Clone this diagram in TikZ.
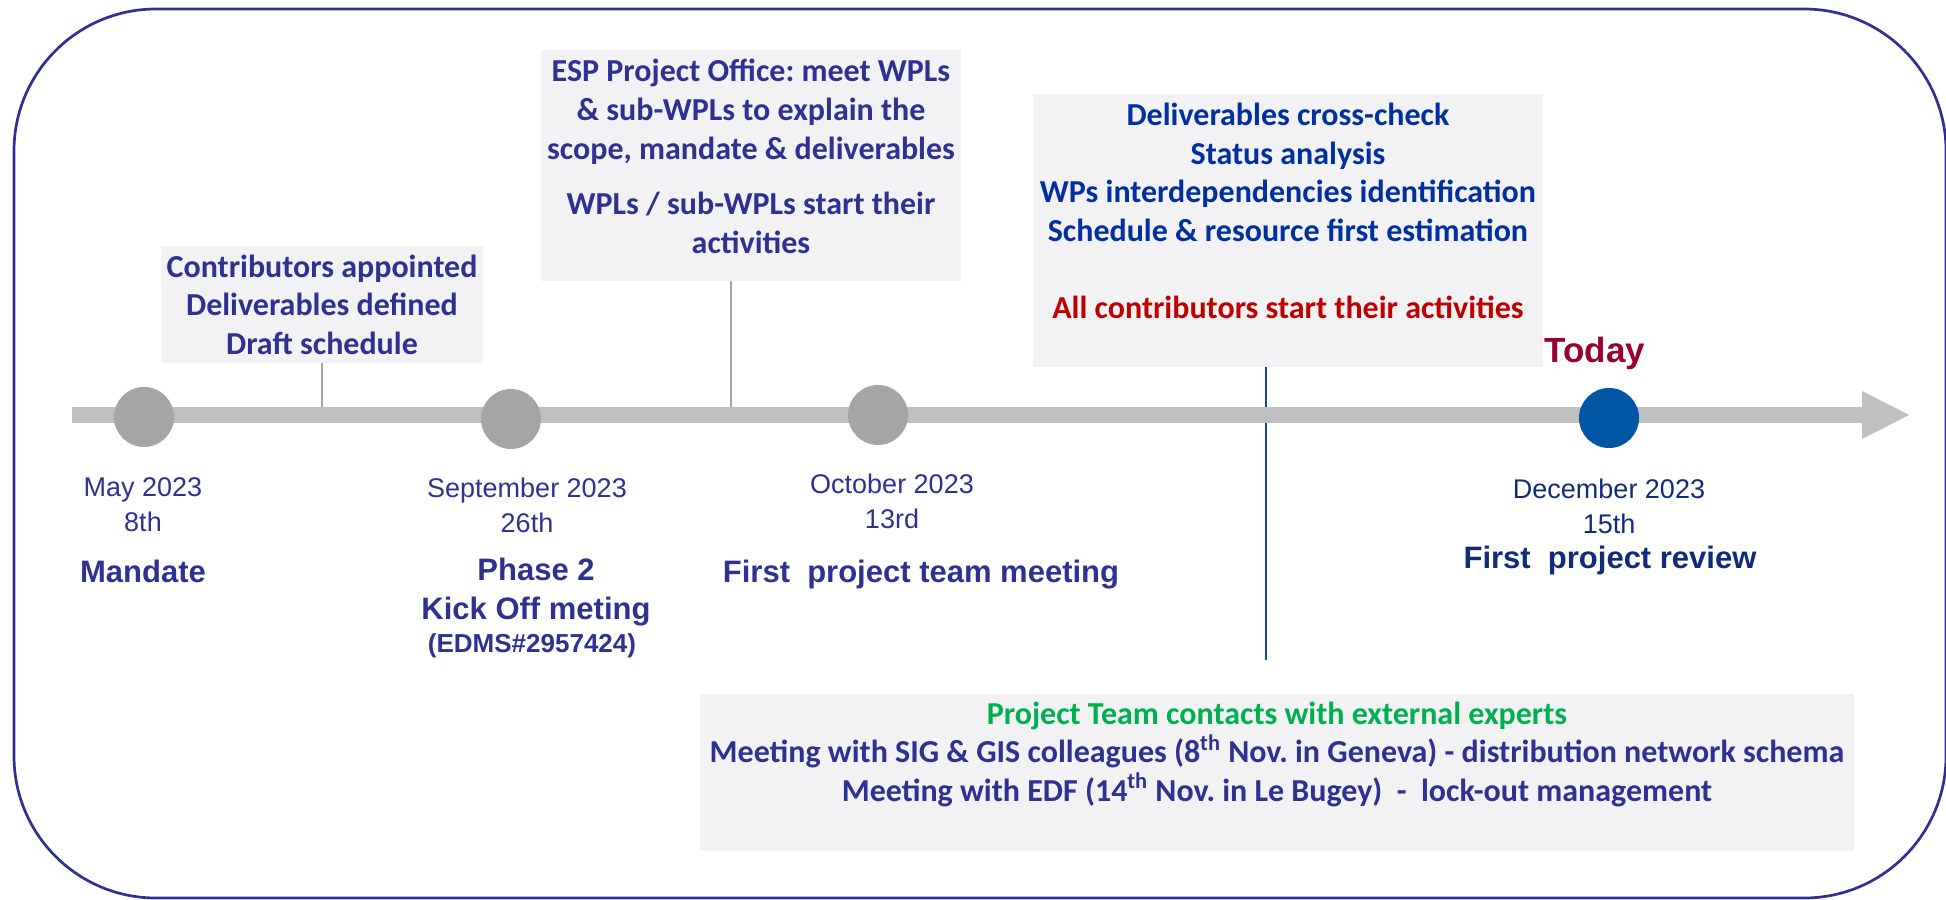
\documentclass[tikz,border=0pt]{standalone}
\usepackage{fontspec}
\setmainfont{Liberation Sans}
\newfontfamily\boxfont{Carlito}
\usetikzlibrary{positioning}
\frenchspacing

\definecolor{frameblue}{RGB}{46,49,146}
\definecolor{labelblue}{RGB}{46,49,146}
\definecolor{navy}{RGB}{18,42,122}
\definecolor{taskblue}{RGB}{0,48,160}
\definecolor{alertred}{RGB}{192,0,0}
\definecolor{todayred}{RGB}{153,0,51}
\definecolor{expertgreen}{RGB}{0,176,80}
\definecolor{boxgray}{RGB}{242,242,244}
\definecolor{bargray}{RGB}{191,191,191}
\definecolor{dotgray}{RGB}{165,165,165}
\definecolor{nowblue}{RGB}{0,85,165}

\begin{document}
\begin{tikzpicture}[x=0.5pt,y=-0.5pt,
	every node/.style={inner sep=0pt,outer sep=0pt},
	infobox/.style={fill=boxgray,draw=none},
	boxtext/.style={align=center,font=\boxfont\bfseries\fontsize{16pt}{19.3pt}\selectfont},
	milestone/.style={circle,fill=dotgray,minimum size=30pt},
	datelabel/.style={align=center,text=labelblue,font=\fontsize{13.5pt}{17.5pt}\selectfont},
	eventlabel/.style={align=center,text=labelblue,font=\bfseries\fontsize{15.5pt}{19.5pt}\selectfont},
	tick/.style={draw=dotgray,line width=0.8pt}]
	\useasboundingbox (0,0) rectangle (1946,899);
	% frame
	\draw [frameblue,line width=1.35pt,rounded corners=71pt] (14,9) rectangle (1946,898);
	% info boxes
	\node [infobox,minimum width=161pt,minimum height=58.5pt] (contrib) at (322,304.5) {};
	\node [infobox,minimum width=210pt,minimum height=115.5pt] (esp) at (751,165.5) {};
	\node [infobox,minimum width=255pt,minimum height=136.5pt] (check) at (1288,230.5) {};
	\node [infobox,minimum width=577pt,minimum height=78.5pt] (experts) at (1277,772.5) {};
	\node [boxtext,text=labelblue] (contribtxt) at (contrib.center) {Contributors appointed\\Deliverables defined\\Draft schedule};
	\node [boxtext,text=labelblue,yshift=4.5pt] (esptxt) at (esp.center) {ESP Project Office: meet WPLs\\\& sub-WPLs to explain the\\scope, mandate \& deliverables\\[8.5pt]WPLs / sub-WPLs start their\\activities};
	\node [boxtext,text=taskblue,yshift=9.7pt] (checktxt) at (check.center) {Deliverables cross-check\\Status analysis\\WPs interdependencies identification\\Schedule \& resource first estimation\\[19.3pt]\textcolor{alertred}{All contributors start their activities}};
	\node [boxtext,text=labelblue,yshift=9.2pt] (expertstxt) at (experts.center) {\textcolor{expertgreen}{Project Team contacts with external experts}\\Meeting with SIG \& GIS colleagues (8\textsuperscript{th} Nov. in Geneva) - distribution network schema\\Meeting with EDF (14\textsuperscript{th} Nov. in Le Bugey) ~- ~lock-out management};
	% timeline
	\coordinate (start) at (72,415);
	\coordinate (tip) at (1909,415);
	\coordinate (split) at (1266,660);
	\draw [nowblue!60!frameblue,line width=1pt] (check.south -| split) -- (split);
	\draw [tick] (contrib.south) -- (contrib.south |- start);
	\draw [tick] (esp.south -| 731,0) -- (731,415);
	\draw [bargray,line width=8pt] (start) -- (1863,415);
	\fill [bargray] (1862,391) -- (tip) -- (1862,439) -- cycle;
	\node [milestone] (mandate) at (144,417) {};
	\node [milestone] (kickoff) at (511,419) {};
	\node [milestone] (teammeet) at (878,415) {};
	\node [milestone,fill=nowblue] (review) at (1609,418) {};
	% labels
	\node [text=todayred,font=\bfseries\fontsize{17.5pt}{20pt}\selectfont] (today) at (1595,353) {Today};
	\node [datelabel] (may) at (143,505) {May 2023\\8th};
	\node [eventlabel] (mandatelbl) at (143,571) {Mandate};
	\node [datelabel] (sep) at (527,505) {September 2023\\26th};
	\node [eventlabel] (kickofflbl) at (536,592.5) {Phase 2\\Kick Off meting};
	\node [text=labelblue,font=\bfseries\fontsize{13pt}{15pt}\selectfont] (edms) at (532,646) {(EDMS\#2957424)};
	\node [datelabel] (oct) at (892,501.5) {October 2023\\13rd};
	\node [eventlabel] (teammeetlbl) at (921,575) {First ~project team meeting};
	\node [datelabel,text=navy] (dec) at (1609,506) {December 2023\\15th};
	\node [eventlabel,text=navy] (reviewlbl) at (1610,560) {First ~project review};
\end{tikzpicture}
\end{document}
